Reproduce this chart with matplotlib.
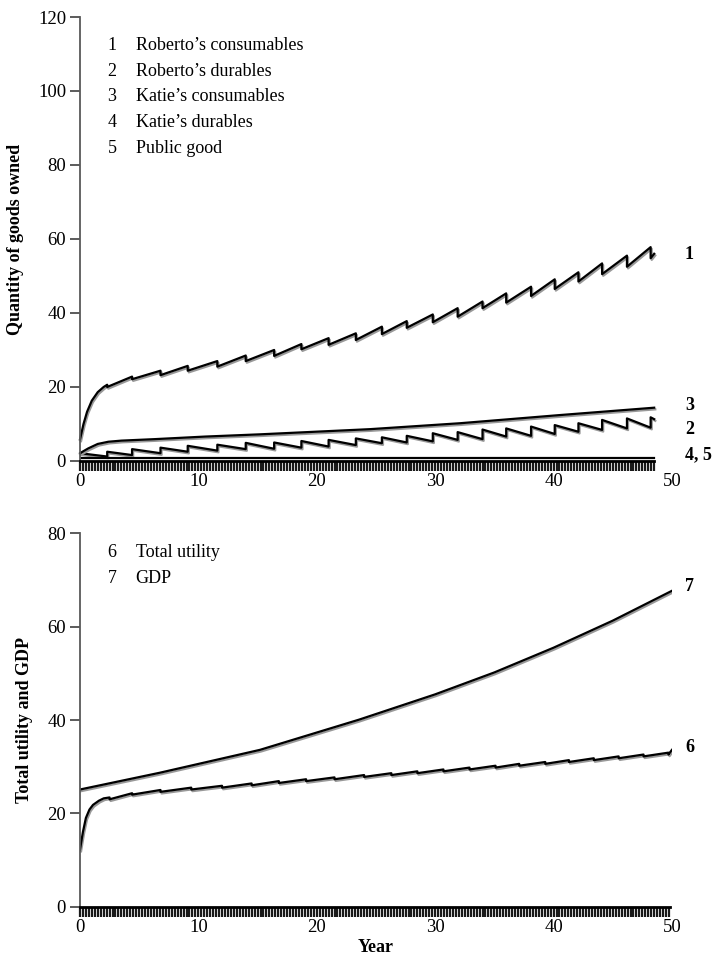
import numpy as np
import matplotlib
matplotlib.use("Agg")
import matplotlib.pyplot as plt
import matplotlib.patheffects as pe
from matplotlib.ticker import FixedLocator

plt.rcParams['font.family'] = ['Liberation Serif', 'DejaVu Serif']

# ---- data ----
# times (years) at which durables are bought (top panel)
jump_t = [2.3, 4.4, 6.8, 9.1, 11.6, 14.0, 16.4, 18.7, 21.0, 23.3, 25.5,
          27.6, 29.8, 31.9, 34.0, 36.0, 38.1, 40.1, 42.1, 44.1, 46.2, 48.2]
t_end_top = 48.5

# 1 Roberto's consumables
r_cons_start_t = [0.0, 0.3, 0.6, 1.0, 1.5, 2.0]
r_cons_start_v = [5.8, 10.0, 13.3, 16.3, 18.6, 20.0]
r_cons_peak = [20.6, 22.8, 24.4, 25.7, 27.0, 28.5, 30.0, 31.6, 33.2, 34.5, 36.3,
               37.8, 39.6, 41.3, 43.1, 45.3, 47.1, 49.1, 51.0, 53.4, 55.5, 57.8]
r_cons_after = [20.0, 22.1, 23.2, 24.4, 25.5, 27.0, 28.4, 30.2, 31.4, 32.7, 34.3,
                36.0, 37.5, 39.0, 41.3, 42.8, 44.6, 46.5, 48.5, 50.5, 52.5, 54.8]
r_cons_end = 56.0

# 2 Roberto's durables
r_dur_start = 2.1
r_dur_before = [1.2, 1.6, 2.1, 2.5, 2.8, 3.2, 3.3, 3.6, 3.9, 4.3, 4.8,
                5.0, 5.3, 5.7, 5.9, 6.6, 6.8, 7.3, 7.9, 8.4, 8.8, 9.0]
r_dur_after = [2.5, 3.2, 3.6, 4.1, 4.4, 4.9, 5.0, 5.4, 5.7, 6.1, 6.4,
               6.8, 7.5, 7.8, 8.5, 8.8, 9.3, 9.7, 10.2, 11.1, 11.5, 11.8]
r_dur_end = 11.3

# 3 Katie's consumables
k_cons_t = [0.0, 0.7, 1.5, 2.4, 3.5, 6.3, 10.6, 15.2, 24.5, 32.1, 40.5, 48.5]
k_cons_v = [2.1, 3.4, 4.6, 5.2, 5.5, 5.9, 6.6, 7.2, 8.6, 10.2, 12.4, 14.4]

# 4 Katie's durables, 5 public good
k_dur_t = [0.0, 48.5]
k_dur_v = [0.7, 0.7]

# 7 GDP
gdp_t = [0.0, 6.75, 15.2, 23.6, 30.0, 35.0, 40.0, 45.0, 50.0]
gdp_v = [25.1, 28.7, 33.6, 40.1, 45.5, 50.2, 55.5, 61.3, 67.7]

# 6 Total utility
util_start_t = [0.0, 0.25, 0.5, 0.8, 1.1, 1.6, 2.0]
util_start_v = [12.2, 16.0, 19.0, 20.8, 21.8, 22.7, 23.2]
util_jump_t = [2.5, 4.4, 6.8, 9.4, 12.0, 14.5, 16.8, 19.1, 21.5, 24.0, 26.3,
               28.5, 30.7, 32.9, 35.1, 37.1, 39.3, 41.3, 43.4, 45.5, 47.6, 49.7]
util_before = [23.4, 24.3, 25.0, 25.5, 25.9, 26.4, 26.9, 27.3, 27.7, 28.2, 28.6,
               29.0, 29.4, 29.8, 30.2, 30.6, 31.0, 31.4, 31.8, 32.2, 32.6, 33.0]
util_after = [23.0, 24.0, 24.6, 25.1, 25.5, 26.0, 26.5, 26.9, 27.3, 27.8, 28.2,
              28.6, 29.0, 29.4, 29.8, 30.2, 30.6, 31.0, 31.4, 31.8, 32.2, 32.6]
util_end = 33.6

top_legend = ["Roberto\u2019s consumables", "Roberto\u2019s durables",
              "Katie\u2019s consumables", "Katie\u2019s durables", "Public good"]
bottom_legend = ["Total utility", "GDP"]


def steps(t0, v0, jt, pre, post, tend, vend):
    xs = list(t0)
    ys = list(v0)
    for t, a, b in zip(jt, pre, post):
        xs += [t, t]
        ys += [a, b]
    xs.append(tend)
    ys.append(vend)
    return xs, ys


shadow = [pe.SimpleLineShadow(offset=(0.8, -1.2), shadow_color='0.6', alpha=1.0),
          pe.Normal()]


def style_axes(ax, ymax, xend):
    ax.set_xlim(0, 50)
    ax.set_ylim(0, ymax)
    for s in ['top', 'right']:
        ax.spines[s].set_visible(False)
    ax.spines['left'].set_color('0.35')
    ax.spines['left'].set_linewidth(1.3)
    ax.spines['bottom'].set_linewidth(2.0)
    ax.spines['bottom'].set_bounds(0, xend)
    ax.set_yticks(np.arange(0, ymax + 1, 20))
    ax.set_xticks([0, 10, 20, 30, 40, 50])
    ax.xaxis.set_minor_locator(FixedLocator(np.arange(0, xend + 0.01, 0.25)))
    ax.xaxis.remove_overlapping_locs = False
    ax.tick_params(axis='x', which='major', length=0, pad=9, labelsize=13.5)
    ax.tick_params(axis='x', which='minor', length=7, width=1.6, color='0.1')
    ax.tick_params(axis='y', length=7, width=1.2, color='0.25', labelsize=13.5, pad=3)


fig = plt.figure(figsize=(7.14, 9.66), dpi=100)
ax1 = fig.add_axes([0.1120, 0.5228, 0.8291, 0.4596])
ax2 = fig.add_axes([0.1120, 0.0615, 0.8291, 0.3863])

# ---- top panel ----
style_axes(ax1, 120, t_end_top)
x, y = steps(r_cons_start_t, r_cons_start_v, jump_t, r_cons_peak, r_cons_after,
             t_end_top, r_cons_end)
ax1.plot(x, y, color='black', lw=1.6, path_effects=shadow, clip_on=False)
x, y = steps([0.0], [r_dur_start], jump_t, r_dur_before, r_dur_after,
             t_end_top, r_dur_end)
ax1.plot(x, y, color='black', lw=1.6, path_effects=shadow, clip_on=False)
ax1.plot(k_cons_t, k_cons_v, color='black', lw=1.6, path_effects=shadow)
ax1.plot(k_dur_t, k_dur_v, color='black', lw=1.6)
ax1.set_ylabel("Quantity of goods owned", fontsize=13, fontweight='bold', labelpad=10)

for i, name in enumerate(top_legend):
    yy = 112.4 - i * 7.0
    ax1.text(2.7, yy, str(i + 1), fontsize=13, va='center', ha='center')
    ax1.text(4.7, yy, name, fontsize=13, va='center', ha='left')

ax1.text(51.1, 55.7, "1", fontsize=13, fontweight='bold', va='center', clip_on=False)
ax1.text(51.1, 15.1, "3", fontsize=13, fontweight='bold', va='center', clip_on=False)
ax1.text(51.1, 8.4, "2", fontsize=13, fontweight='bold', va='center', clip_on=False)
ax1.text(51.1, 1.6, "4, 5", fontsize=13, fontweight='bold', va='center', clip_on=False)

# ---- bottom panel ----
style_axes(ax2, 80, 49.8)
ax2.plot(gdp_t, gdp_v, color='black', lw=1.6, path_effects=shadow)
x, y = steps(util_start_t, util_start_v, util_jump_t, util_before, util_after,
             50.0, util_end)
ax2.plot(x, y, color='black', lw=1.6, path_effects=shadow)
ax2.set_ylabel("Total utility and GDP", fontsize=13, fontweight='bold', labelpad=10)
ax2.set_xlabel("Year", fontsize=13, fontweight='bold', labelpad=2)

for i, name in enumerate(bottom_legend):
    yy = 76.0 - i * 5.6
    ax2.text(2.7, yy, str(i + 6), fontsize=13, va='center', ha='center')
    ax2.text(4.7, yy, name, fontsize=13, va='center', ha='left')

ax2.text(51.1, 68.6, "7", fontsize=13, fontweight='bold', va='center', clip_on=False)
ax2.text(51.1, 34.0, "6", fontsize=13, fontweight='bold', va='center', clip_on=False)

fig.savefig("out.png", dpi=100)
